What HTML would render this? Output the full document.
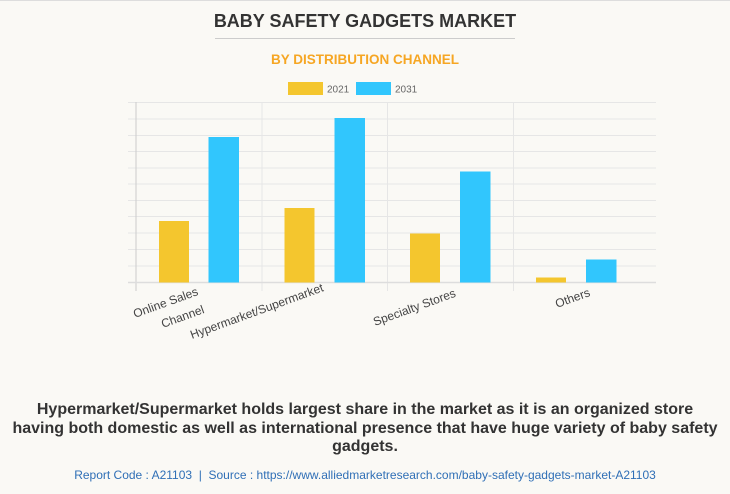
<!DOCTYPE html>
<html><head><meta charset="utf-8"><style>
body{margin:0;width:730px;height:493px;background:#faf9f5;font-family:"Liberation Sans",sans-serif;overflow:hidden;position:relative;border-top:1px solid #ddd;box-sizing:border-box}
.t{position:absolute;left:0;width:730px;text-align:center}
</style></head><body>
<div class="t" style="top:10px;font-size:18px;font-weight:bold;color:#333;letter-spacing:0px">BABY SAFETY GADGETS MARKET</div>
<div style="position:absolute;left:215px;top:37px;width:300px;height:1px;background:#ccc"></div>
<div class="t" style="top:51px;font-size:13.5px;font-weight:bold;color:#f6a623">BY DISTRIBUTION CHANNEL</div>
<svg width="730" height="493" style="position:absolute;left:0;top:0" font-family="Liberation Sans, sans-serif">
<rect x="288" y="81" width="35" height="13" fill="#f4c62e"/>
<text x="327" y="91.5" font-size="10" fill="#666">2021</text>
<rect x="356" y="81" width="35" height="13" fill="#31c6fd"/>
<text x="395" y="91.5" font-size="10" fill="#666">2031</text>
<g stroke="#e6e6e6" stroke-width="1">
<line x1="128" x2="656" y1="101.5" y2="101.5"/><line x1="128" x2="656" y1="118" y2="118"/><line x1="128" x2="656" y1="134.5" y2="134.5"/><line x1="128" x2="656" y1="150.5" y2="150.5"/><line x1="128" x2="656" y1="167" y2="167"/><line x1="128" x2="656" y1="183" y2="183"/><line x1="128" x2="656" y1="199.5" y2="199.5"/><line x1="128" x2="656" y1="215.5" y2="215.5"/><line x1="128" x2="656" y1="232" y2="232"/><line x1="128" x2="656" y1="248.5" y2="248.5"/><line x1="128" x2="656" y1="265" y2="265"/>
<line x1="262" x2="262" y1="101" y2="290"/><line x1="387.5" x2="387.5" y1="101" y2="290"/><line x1="513.5" x2="513.5" y1="101" y2="290"/>
</g>
<line x1="136" x2="136" y1="101" y2="290" stroke="#ccc"/>
<line x1="128" x2="656" y1="281.5" y2="281.5" stroke="#ddd" stroke-width="1.5"/>
<g fill="#f4c62e"><rect x="159" y="220" width="30" height="61.5"/><rect x="284.5" y="207" width="30" height="74.5"/><rect x="410" y="232.5" width="30" height="49"/><rect x="536" y="276.5" width="30" height="5"/></g>
<g fill="#31c6fd"><rect x="208.5" y="136" width="30.5" height="145.5"/><rect x="334.5" y="117" width="30.5" height="164.5"/><rect x="460" y="170.5" width="30.5" height="111"/><rect x="586" y="258.5" width="30.5" height="23"/></g>
<g font-size="12" fill="#444">
<text transform="translate(135,317) rotate(-20)">Online Sales</text>
<text transform="translate(163,327) rotate(-20)">Channel</text>
<text transform="translate(192,338) rotate(-20)">Hypermarket/Supermarket</text>
<text transform="translate(375,325) rotate(-20)">Specialty Stores</text>
<text transform="translate(557,307) rotate(-20)">Others</text>
</g>
</svg>
<div style="position:absolute;left:0;width:730px;top:400px;text-align:center;font-size:16px;font-weight:bold;color:#333;line-height:18.5px;white-space:nowrap">Hypermarket/Supermarket holds largest share in the market as it is an organized store<br>having both domestic as well as international presence that have huge variety of baby safety<br>gadgets.</div>
<div class="t" style="top:467px;font-size:12px;color:#2f6fb6">Report Code : A21103 &nbsp;|&nbsp; Source : https://www.alliedmarketresearch.com/baby-safety-gadgets-market-A21103</div>
</body></html>
